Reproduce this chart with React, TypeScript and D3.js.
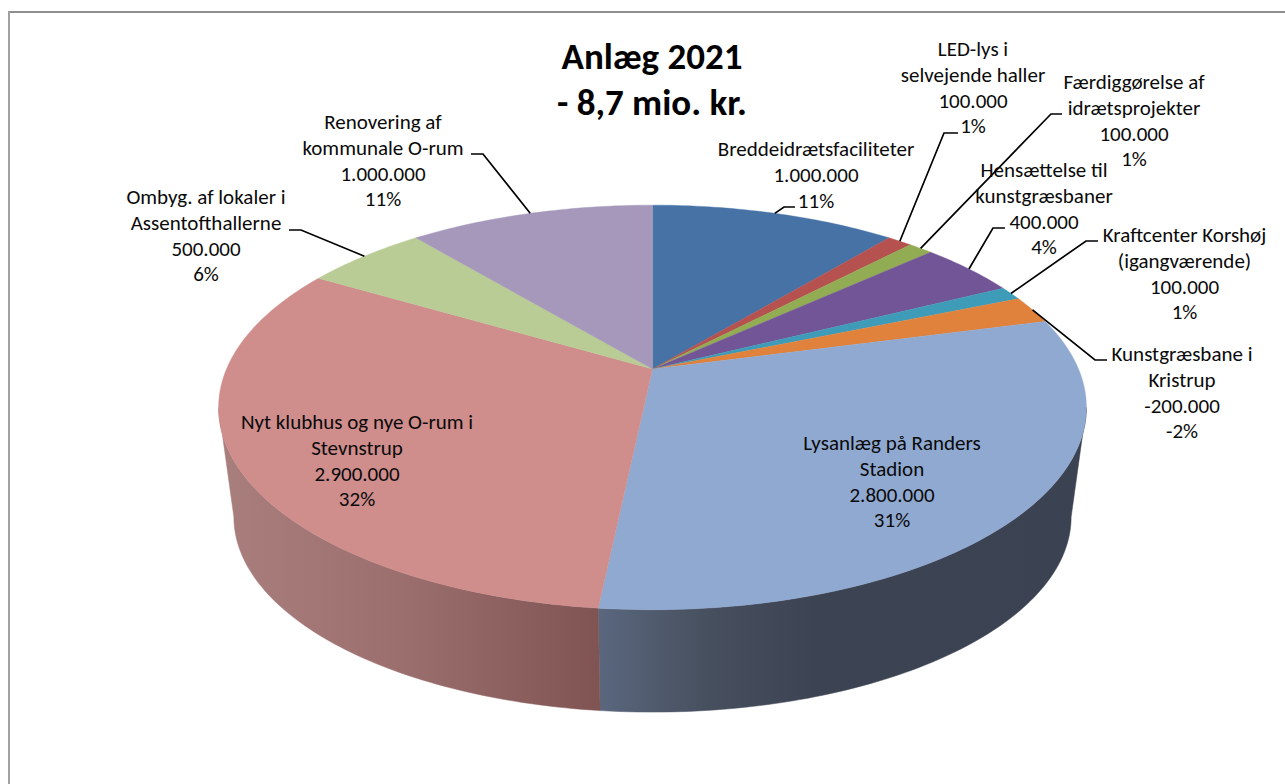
import React from "react";
import * as d3 from "d3";

// ---------- data ----------
const categories = [
  ["Breddeidrætsfaciliteter"],
  ["LED-lys i", "selvejende haller"],
  ["Færdiggørelse af", "idrætsprojekter"],
  ["Hensættelse til", "kunstgræsbaner"],
  ["Kraftcenter Korshøj", "(igangværende)"],
  ["Kunstgræsbane i", "Kristrup"],
  ["Lysanlæg på Randers", "Stadion"],
  ["Nyt klubhus og nye O-rum i", "Stevnstrup"],
  ["Ombyg. af lokaler i", "Assentofthallerne"],
  ["Renovering af", "kommunale O-rum"],
];
const amounts = [1000000, 100000, 100000, 400000, 100000, -200000, 2800000, 2900000, 500000, 1000000];
const amountLabels = ["1.000.000", "100.000", "100.000", "400.000", "100.000", "-200.000", "2.800.000", "2.900.000", "500.000", "1.000.000"];
const percents = ["11%", "1%", "1%", "4%", "1%", "-2%", "31%", "32%", "6%", "11%"];
const titleLines = ["Anlæg 2021", "- 8,7 mio. kr."];

// ---------- styling / layout ----------
const topColors = ["#4672a6", "#b5514f", "#92ac54", "#725596", "#3f9cb9", "#e0823b", "#90a9d1", "#cf8d8c", "#b9cc95", "#a598ba"];
const wallStops: Record<number, [number, string][]> = {
  6: [[0, "#5a677e"], [0.22, "#47505f"], [0.45, "#3c4352"], [1, "#3b4251"]],
  7: [[0, "#a97f7e"], [0.5, "#9a6e6d"], [1, "#7f5453"]],
};
const labelLayout = [
  { cx: 816, y: 149, elbow: [[784, 207], [795, 207]] },
  { cx: 973, y: 49, elbow: [[944, 133], [958, 133]] },
  { cx: 1134, y: 82, elbow: [[1051, 114], [1062, 114]] },
  { cx: 1044, y: 170, elbow: [[993, 228], [1005, 228]] },
  { cx: 1184.5, y: 235, elbow: [[1086, 241], [1098, 241]] },
  { cx: 1182, y: 354, elbow: [[1095, 360], [1107, 360]] },
  { cx: 892, y: 443, elbow: null },
  { cx: 357, y: 422, elbow: null },
  { cx: 206, y: 197, elbow: [[301, 230], [289, 230]] },
  { cx: 383, y: 122, elbow: [[483, 154], [471, 154]] },
];
const LINE_H = 25.8;
const FONT = "Calibri, Carlito, Lato, sans-serif";

// perspective of the disc: unit circle -> screen
const K = 0.19;
const CX = 652.5;
const topDisc = { a: 426, b: 195, cy: 369 };
const botDisc = { a: 411, b: 188, cy: 480 };
const project = (d: { a: number; b: number; cy: number }, t: number): [number, number] => {
  const x = Math.sin(t);
  const y = -Math.cos(t);
  const w = 1 - K * y;
  return [CX + (d.a * x) / w, d.cy + (d.b * y) / w];
};
const sample = (t0: number, t1: number) => {
  const n = Math.max(2, Math.ceil(((t1 - t0) / (2 * Math.PI)) * 360));
  return d3.range(n + 1).map((i) => t0 + ((t1 - t0) * i) / n);
};
const line = d3.line<[number, number]>();

export default function App() {
  const arcs = d3.pie<number>().value((v) => Math.abs(v)).sort(null)(amounts);
  const visStart = Math.acos(-K);
  const visEnd = 2 * Math.PI - visStart;

  return (
    <svg width={1285} height={784} style={{ position: "fixed", left: 0, top: 0, display: "block", background: "#fff" }}>
      <defs>
        {Object.entries(wallStops).map(([i, stops]) => {
          const arc = arcs[+i];
          const xs = sample(Math.max(arc.startAngle, visStart), Math.min(arc.endAngle, visEnd)).map((t) => project(topDisc, t)[0]);
          return (
            <linearGradient key={i} id={`wall${i}`} gradientUnits="userSpaceOnUse" x1={d3.min(xs)} x2={d3.max(xs)} y1={0} y2={0}>
              {stops.map(([o, c]) => <stop key={o} offset={o} stopColor={c} />)}
            </linearGradient>
          );
        })}
      </defs>

      <rect x={8} y={11} width={1277} height={2} fill="#8e8e8e" />
      <rect x={8} y={11} width={2} height={773} fill="#a0a0a0" />

      {/* side walls */}
      {arcs.map((arc, i) => {
        const t0 = Math.max(arc.startAngle, visStart);
        const t1 = Math.min(arc.endAngle, visEnd);
        if (t1 <= t0) return null;
        const ts = sample(t0, t1);
        const pts = [...ts.map((t) => project(topDisc, t)), ...ts.slice().reverse().map((t) => project(botDisc, t))];
        return <path key={i} d={line(pts)! + "Z"} fill={`url(#wall${i})`} stroke={`url(#wall${i})`} strokeWidth={0.5} />;
      })}

      {/* top face */}
      {arcs.map((arc, i) => {
        const pts: [number, number][] = [[CX, topDisc.cy], ...sample(arc.startAngle, arc.endAngle).map((t) => project(topDisc, t))];
        return <path key={i} d={line(pts)! + "Z"} fill={topColors[i]} stroke={topColors[i]} strokeWidth={0.4} />;
      })}

      {/* leader lines */}
      {arcs.map((arc, i) => {
        const l = labelLayout[i];
        if (!l.elbow) return null;
        const start = project(topDisc, (arc.startAngle + arc.endAngle) / 2);
        return <path key={i} d={line([start, ...(l.elbow as [number, number][])])!} fill="none" stroke="#000" strokeWidth={1.7} />;
      })}

      {/* labels */}
      {categories.map((cat, i) => {
        const lines = [...cat, amountLabels[i], percents[i]];
        return (
          <text key={i} textAnchor="middle" fontFamily={FONT} fontSize={21} fill="#0a0a0a">
            {lines.map((s, j) => (
              <tspan key={j} x={labelLayout[i].cx} y={labelLayout[i].y + j * LINE_H} dy="0.33em">{s}</tspan>
            ))}
          </text>
        );
      })}

      {/* title */}
      <text textAnchor="middle" fontFamily={FONT} fontSize={37} fontWeight={700} fill="#000">
        {titleLines.map((s, j) => (
          <tspan key={j} x={652} y={68.5 + j * 46.5}>{s}</tspan>
        ))}
      </text>
    </svg>
  );
}
